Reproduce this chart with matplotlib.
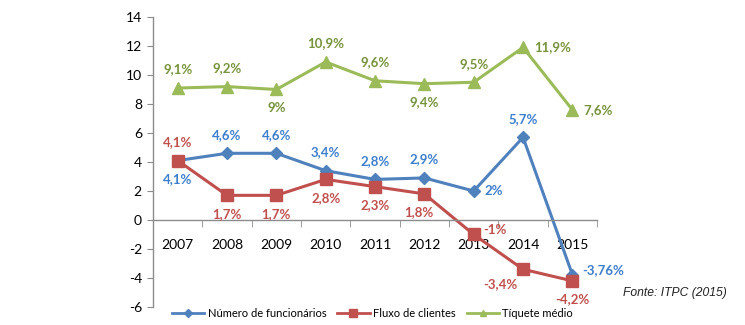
import matplotlib

matplotlib.use("Agg")
import matplotlib.pyplot as plt
from matplotlib.lines import Line2D

plt.rcParams["font.family"] = ["Lato", "DejaVu Sans"]

YEARS = ["2007", "2008", "2009", "2010", "2011", "2012", "2013", "2014", "2015"]
FUNCIONARIOS = [4.1, 4.6, 4.6, 3.4, 2.8, 2.9, 2.0, 5.7, -3.76]
CLIENTES = [4.1, 1.7, 1.7, 2.8, 2.3, 1.8, -1.0, -3.4, -4.2]
TIQUETE = [9.1, 9.2, 9.0, 10.9, 9.6, 9.4, 9.5, 11.9, 7.6]

FUNC_POS = ["below", "above", "above", "above", "above", "above", "right", "above", "right_up"]
CLI_POS = ["above", "below", "below", "below", "below", "below_left", "right_up", "left_below", "below"]
TIQ_POS = ["above", "above", "below", "above", "above", "below", "above", "right", "right"]

BLUE = "#4f81bd"
RED = "#c0504d"
GREEN = "#9bbb59"
BLUE_TXT = "#3d7fcc"
RED_TXT = "#c0504d"
GREEN_TXT = "#77933c"
AXIS_GRAY = "#8c8c8c"

OFFSETS = {
    "above": ((0, 9), "center", "bottom"),
    "below": ((0, -9), "center", "top"),
    "below_left": ((-4, -9), "center", "top"),
    "left_below": ((-16, -6), "center", "top"),
    "right": ((8, 0), "left", "center"),
    "right_up": ((7, 3), "left", "center"),
}


def fmt(v: float) -> str:
    s = f"{v:g}".replace(".", ",")
    return s + "%"


def label_series(ax, x, values, positions, color):
    for xi, v, pos in zip(x, values, positions):
        (dx, dy), ha, va = OFFSETS[pos]
        ax.annotate(fmt(v), (xi, v), xytext=(dx, dy), textcoords="offset points",
                    ha=ha, va=va, color=color, fontsize=9.5, fontweight="bold")


fig = plt.figure(figsize=(7.45, 3.25), dpi=100)
ax = fig.add_axes([0.2054, 0.0554, 0.5960, 0.8923])

x = list(range(len(YEARS)))
ax.plot(x, FUNCIONARIOS, color=BLUE, lw=2.2, marker="D", ms=6, mec=BLUE, mfc=BLUE)
ax.plot(x, CLIENTES, color=RED, lw=2.2, marker="s", ms=9, mec=RED, mfc=RED)
ax.plot(x, TIQUETE, color=GREEN, lw=2.2, marker="^", ms=9, mec=GREEN, mfc=GREEN)

label_series(ax, x, FUNCIONARIOS, FUNC_POS, BLUE_TXT)
label_series(ax, x, CLIENTES, CLI_POS, RED_TXT)
label_series(ax, x, TIQUETE, TIQ_POS, GREEN_TXT)

ax.set_xlim(-0.5, len(YEARS) - 0.5)
ax.set_ylim(-6, 14)
ax.set_yticks(range(-6, 15, 2))
ax.set_yticklabels([str(v) for v in range(-6, 15, 2)], fontsize=10)

ax.set_xticks(x)
ax.set_xticklabels(YEARS, fontsize=10)
ax.set_xticks([i - 0.5 for i in range(len(YEARS) + 1)], minor=True)
ax.tick_params(axis="x", which="major", length=0, pad=14)
ax.tick_params(axis="x", which="minor", length=5, color=AXIS_GRAY, direction="out")
ax.tick_params(axis="y", length=4, color=AXIS_GRAY, direction="out", pad=4)

ax.spines["top"].set_visible(False)
ax.spines["right"].set_visible(False)
ax.spines["bottom"].set_position(("data", 0))
for side in ("left", "bottom"):
    ax.spines[side].set_color(AXIS_GRAY)
    ax.spines[side].set_linewidth(1.0)

handles = [
    Line2D([], [], color=BLUE, lw=2, marker="D", ms=4),
    Line2D([], [], color=RED, lw=2, marker="s", ms=6),
    Line2D([], [], color=GREEN, lw=2, marker="^", ms=5),
]
fig.legend(handles, ["Número de funcionários", "Fluxo de clientes", "Tíquete médio"],
           loc="center", bbox_to_anchor=(0.50, 0.035), ncol=3, frameon=False,
           fontsize=8, handlelength=2.9, columnspacing=1.0, handletextpad=0.3)

fig.text(0.836, 0.098, "Fonte: ITPC (2015)", fontsize=8.7, style="italic",
         family="Liberation Sans", color="#222222", ha="left", va="center")

fig.savefig("out.png", dpi=100)
